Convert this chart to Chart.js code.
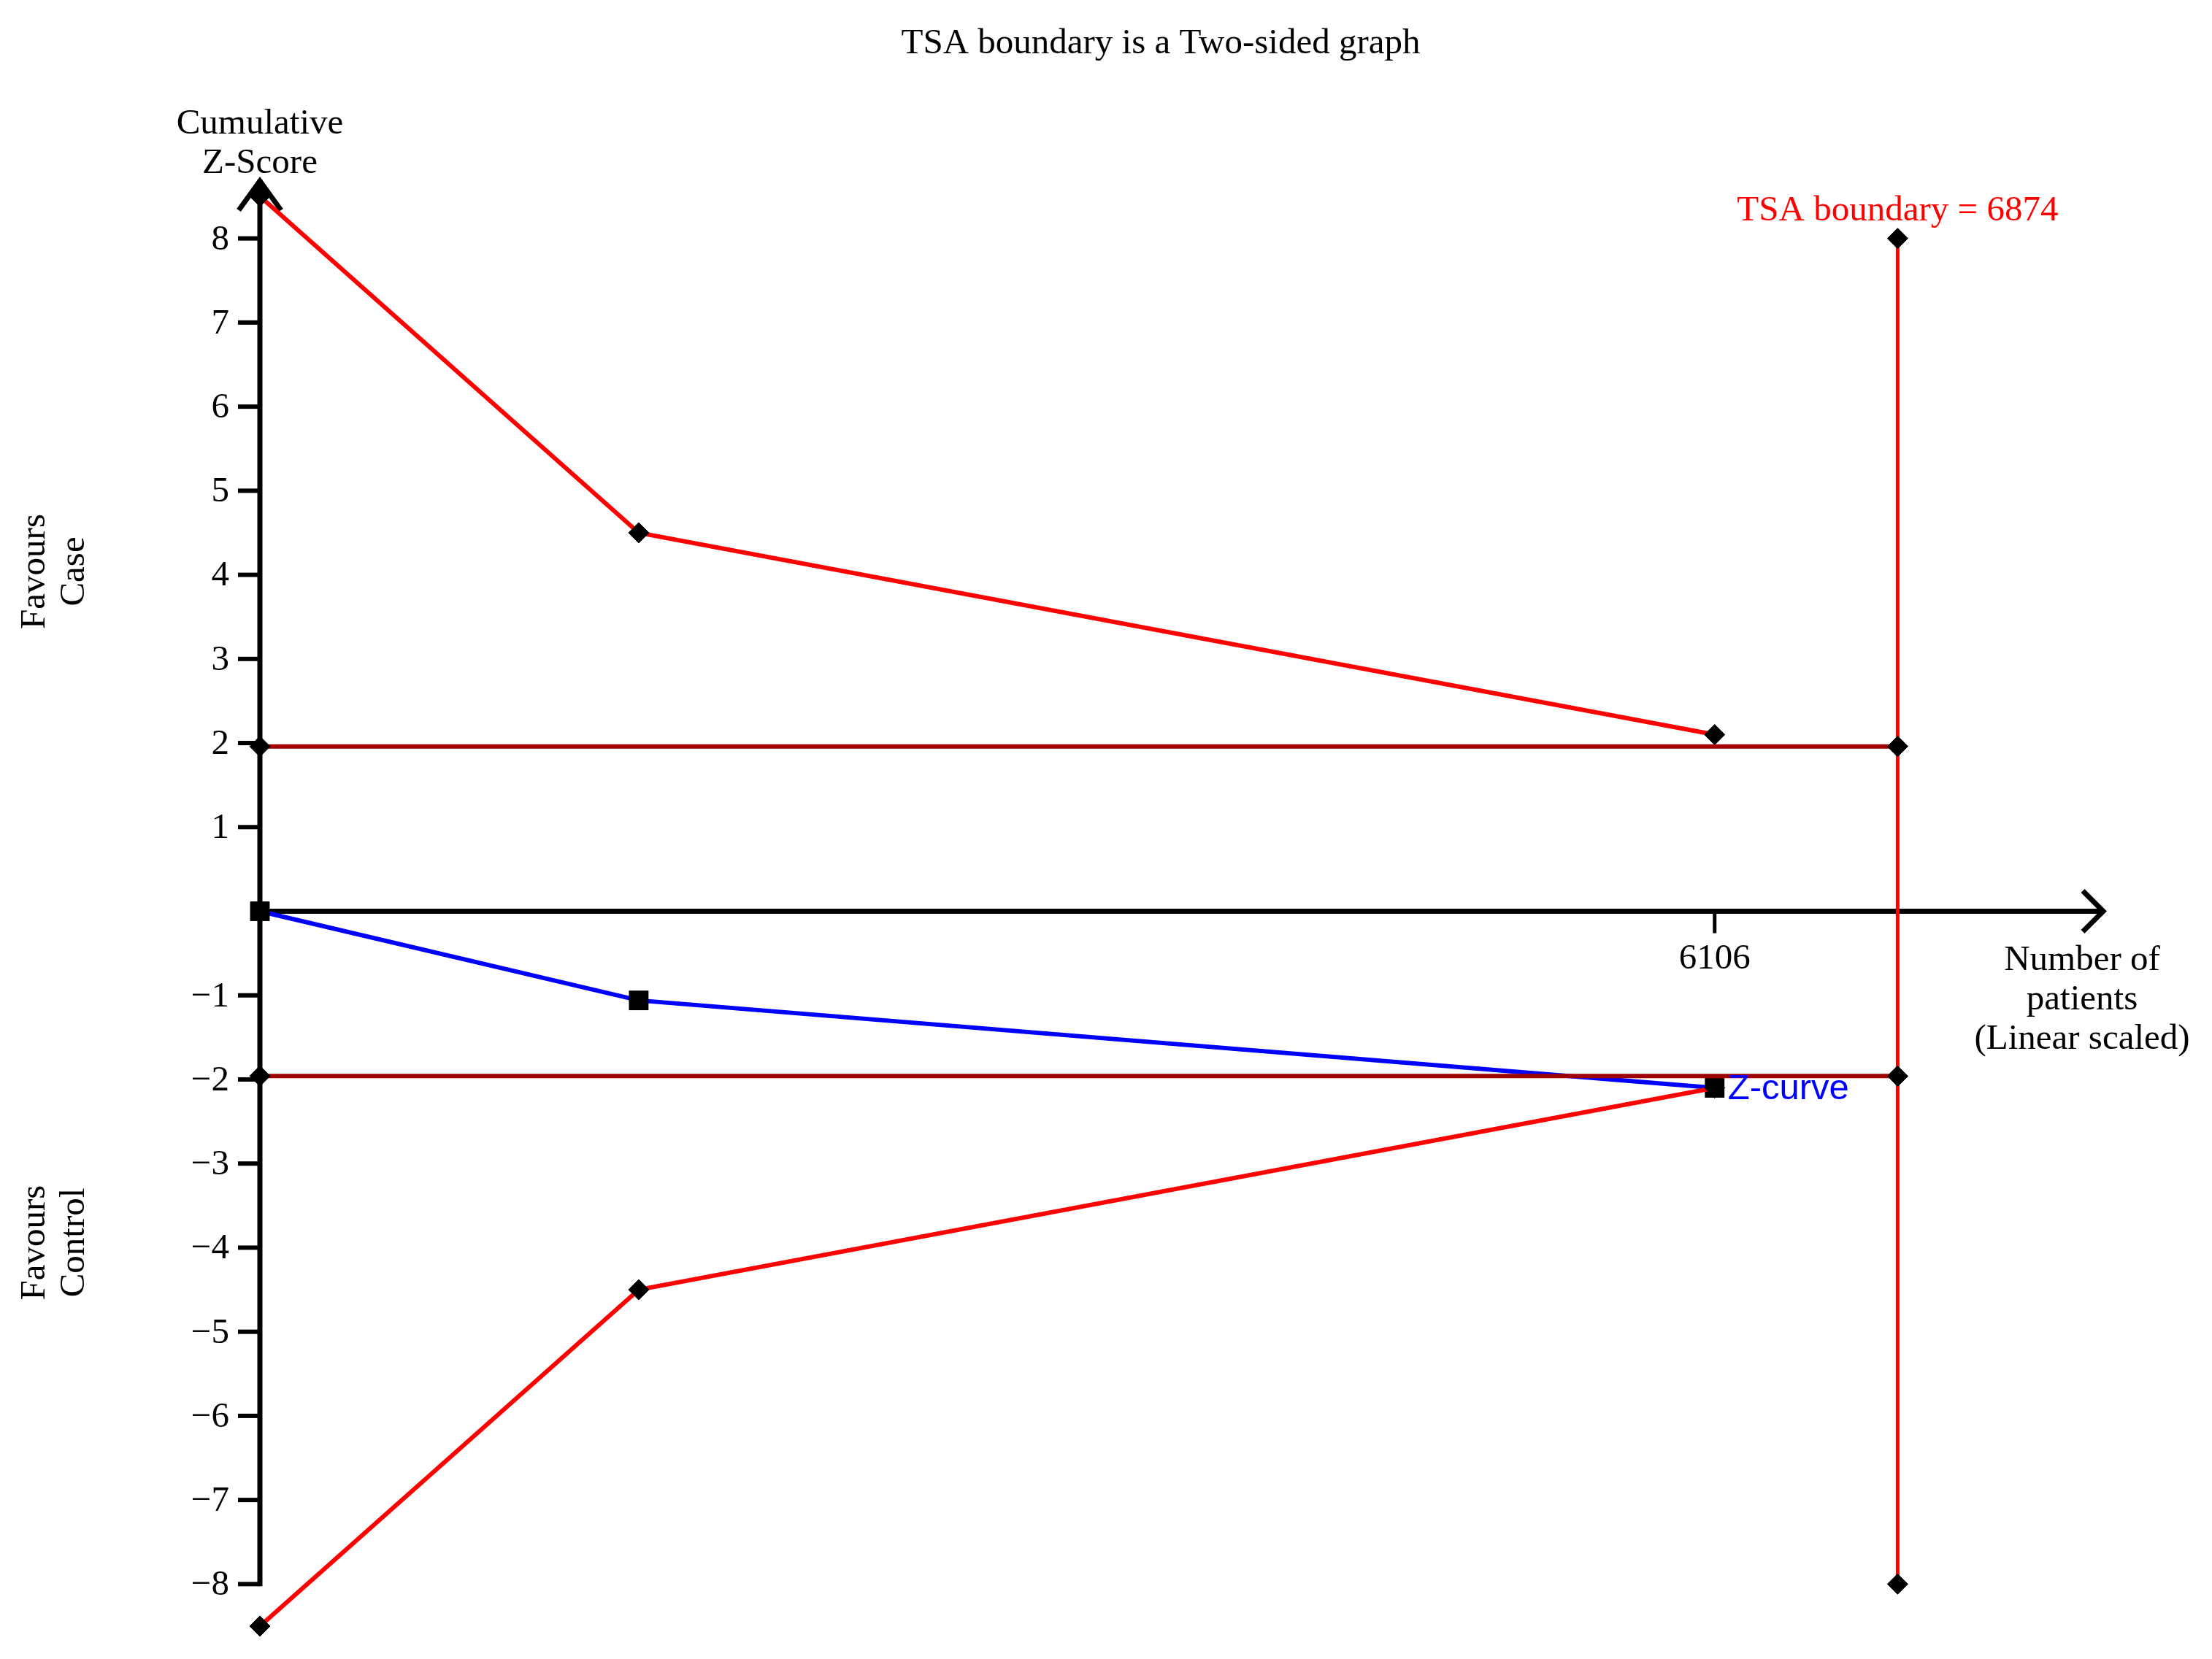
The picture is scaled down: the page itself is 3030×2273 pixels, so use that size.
<!DOCTYPE html>
<html>
<head>
<meta charset="utf-8">
<script src="https://cdn.jsdelivr.net/npm/chart.js@4/dist/chart.umd.min.js"></script>
<style>
  body { margin: 0; background: #ffffff; }
  canvas { display: block; }
</style>
</head>
<body>
<canvas id="myChart" width="3030" height="2273"></canvas>
<script>
// values
var patients = [0, 1590, 6106];
var upperBoundary = [8.5, 4.5, 2.1];
var lowerBoundary = [-8.5, -4.5, -2.1];
var zCurve = [0, -1.06, -2.1];
var conventionalX = [0, 6874];
var conventionalZ = 1.96;
var tsaBoundary = 6874;
var tsaBoundaryZ = [8, 1.96, -1.96, -8];
var yTicks = [8, 7, 6, 5, 4, 3, 2, 1, -1, -2, -3, -4, -5, -6, -7, -8];
var xTicks = [6106];

function toPoints(xs, ys) {
    return xs.map(function (x, i) { return { x: x, y: ys[i] }; });
}

var serif = '"Liberation Serif", "Times New Roman", serif';
var fontSize = 49;

// draws the arrow axes, ticks and all the texts
var axesPlugin = {
    id: "tsaAxes",
    beforeDatasetsDraw: function (chart) {
        var ctx = chart.ctx;
        var xs = chart.scales.x, ys = chart.scales.y;
        var x0 = xs.getPixelForValue(0);
        var y0 = ys.getPixelForValue(0);
        var top = ys.getPixelForValue(ys.max);
        var bottom = ys.getPixelForValue(-8);
        var right = xs.getPixelForValue(xs.max);
        ctx.save();
        ctx.strokeStyle = "black";
        ctx.lineWidth = 7;
        ctx.lineCap = "butt";
        // y axis
        ctx.beginPath();
        ctx.moveTo(x0, bottom + 3);
        ctx.lineTo(x0, top);
        ctx.stroke();
        ctx.beginPath();
        ctx.moveTo(x0 - 29, top + 42);
        ctx.lineTo(x0, top + 2);
        ctx.lineTo(x0 + 29, top + 42);
        ctx.stroke();
        // x axis
        ctx.beginPath();
        ctx.moveTo(x0, y0);
        ctx.lineTo(right, y0);
        ctx.stroke();
        ctx.beginPath();
        ctx.moveTo(right - 29, y0 - 28);
        ctx.lineTo(right - 1, y0);
        ctx.lineTo(right - 29, y0 + 28);
        ctx.stroke();
        // y ticks
        ctx.lineWidth = 6;
        ctx.fillStyle = "black";
        ctx.font = fontSize + "px " + serif;
        ctx.textAlign = "right";
        ctx.textBaseline = "middle";
        yTicks.forEach(function (v) {
            var py = ys.getPixelForValue(v);
            ctx.beginPath();
            ctx.moveTo(x0 - 30, py);
            ctx.lineTo(x0, py);
            ctx.stroke();
            ctx.fillText(v < 0 ? "\u2212" + Math.abs(v) : String(v), x0 - 42, py + 2);
        });
        // x ticks
        ctx.lineWidth = 5;
        ctx.textAlign = "center";
        xTicks.forEach(function (v) {
            var px = xs.getPixelForValue(v);
            ctx.beginPath();
            ctx.moveTo(px, y0);
            ctx.lineTo(px, y0 + 30);
            ctx.stroke();
            ctx.fillText(String(v), px, y0 + 66);
        });
        ctx.restore();
    },
    afterDraw: function (chart) {
        var ctx = chart.ctx;
        var xs = chart.scales.x, ys = chart.scales.y;
        var x0 = xs.getPixelForValue(0);
        var y0 = ys.getPixelForValue(0);
        ctx.save();
        ctx.fillStyle = "black";
        ctx.font = fontSize + "px " + serif;
        ctx.textAlign = "center";
        ctx.textBaseline = "middle";
        ctx.fillText("TSA boundary is a Two-sided graph", 1590, 60);
        ctx.fillText("Cumulative", x0, 170);
        ctx.fillText("Z-Score", x0, 224);
        // x axis title
        var tx = 2852;
        ctx.fillText("Number of", tx, y0 + 68);
        ctx.fillText("patients", tx, y0 + 122);
        ctx.fillText("(Linear scaled)", tx, y0 + 176);
        // TSA boundary label
        ctx.fillStyle = "#ff0000";
        ctx.fillText("TSA boundary = " + tsaBoundary, xs.getPixelForValue(tsaBoundary), ys.getPixelForValue(8) - 38);
        // Z-curve label
        ctx.fillStyle = "#0000ff";
        ctx.font = fontSize + 'px "Liberation Sans", Arial, sans-serif';
        ctx.textAlign = "left";
        var last = zCurve.length - 1;
        ctx.fillText("Z-curve", xs.getPixelForValue(patients[last]) + 18, ys.getPixelForValue(zCurve[last]) + 2);
        // side labels, rotated
        ctx.fillStyle = "black";
        ctx.font = fontSize + "px " + serif;
        ctx.textAlign = "center";
        [["Favours", "Case", 4.04], ["Favours", "Control", -3.94]].forEach(function (lab) {
            var cy = ys.getPixelForValue(lab[2]);
            ctx.save();
            ctx.translate(48, cy);
            ctx.rotate(-Math.PI / 2);
            ctx.fillText(lab[0], 0, 0);
            ctx.restore();
            ctx.save();
            ctx.translate(102, cy);
            ctx.rotate(-Math.PI / 2);
            ctx.fillText(lab[1], 0, 0);
            ctx.restore();
        });
        ctx.restore();
    }
};

var diamond = {
    pointStyle: "rectRot",
    pointRadius: 14,
    pointBackgroundColor: "black",
    pointBorderColor: "black",
    pointBorderWidth: 1
};

var ctx = document.getElementById("myChart").getContext("2d");

var myChart = new Chart(ctx, {
    type: "scatter",
    data: {
        datasets: [
            Object.assign({
                label: "Conventional upper",
                data: toPoints(conventionalX, conventionalX.map(function () { return conventionalZ; })),
                showLine: true,
                borderColor: "#a00000",
                borderWidth: 6,
                clip: false
            }, diamond),
            Object.assign({
                label: "Conventional lower",
                data: toPoints(conventionalX, conventionalX.map(function () { return -conventionalZ; })),
                showLine: true,
                borderColor: "#a00000",
                borderWidth: 6,
                clip: false
            }, diamond),
            Object.assign({
                label: "TSA boundary",
                data: toPoints(tsaBoundaryZ.map(function () { return tsaBoundary; }), tsaBoundaryZ),
                showLine: true,
                borderColor: "#ff0000",
                borderWidth: 5,
                clip: false
            }, diamond),
            Object.assign({
                label: "Upper boundary",
                data: toPoints(patients, upperBoundary),
                showLine: true,
                borderColor: "#ff0000",
                borderWidth: 6,
                clip: false
            }, diamond),
            Object.assign({
                label: "Lower boundary",
                data: toPoints(patients, lowerBoundary),
                showLine: true,
                borderColor: "#ff0000",
                borderWidth: 6,
                clip: false
            }, diamond),
            {
                label: "Z-curve",
                data: toPoints(patients, zCurve),
                showLine: true,
                borderColor: "#0000ff",
                borderWidth: 6,
                pointStyle: "rect",
                pointRadius: 19,
                pointBackgroundColor: "black",
                pointBorderColor: "black",
                pointBorderWidth: 0,
                clip: false
            }
        ]
    },
    options: {
        responsive: false,
        devicePixelRatio: 1,
        animation: false,
        layout: {
            padding: { left: 356, right: 148, top: 246, bottom: 22 }
        },
        plugins: {
            legend: { display: false },
            title: { display: false },
            tooltip: { enabled: false }
        },
        scales: {
            x: { type: "linear", min: 0, max: 7740, display: false },
            y: { type: "linear", min: -8.7, max: 8.7, display: false }
        }
    },
    plugins: [axesPlugin]
});
</script>
</body>
</html>
